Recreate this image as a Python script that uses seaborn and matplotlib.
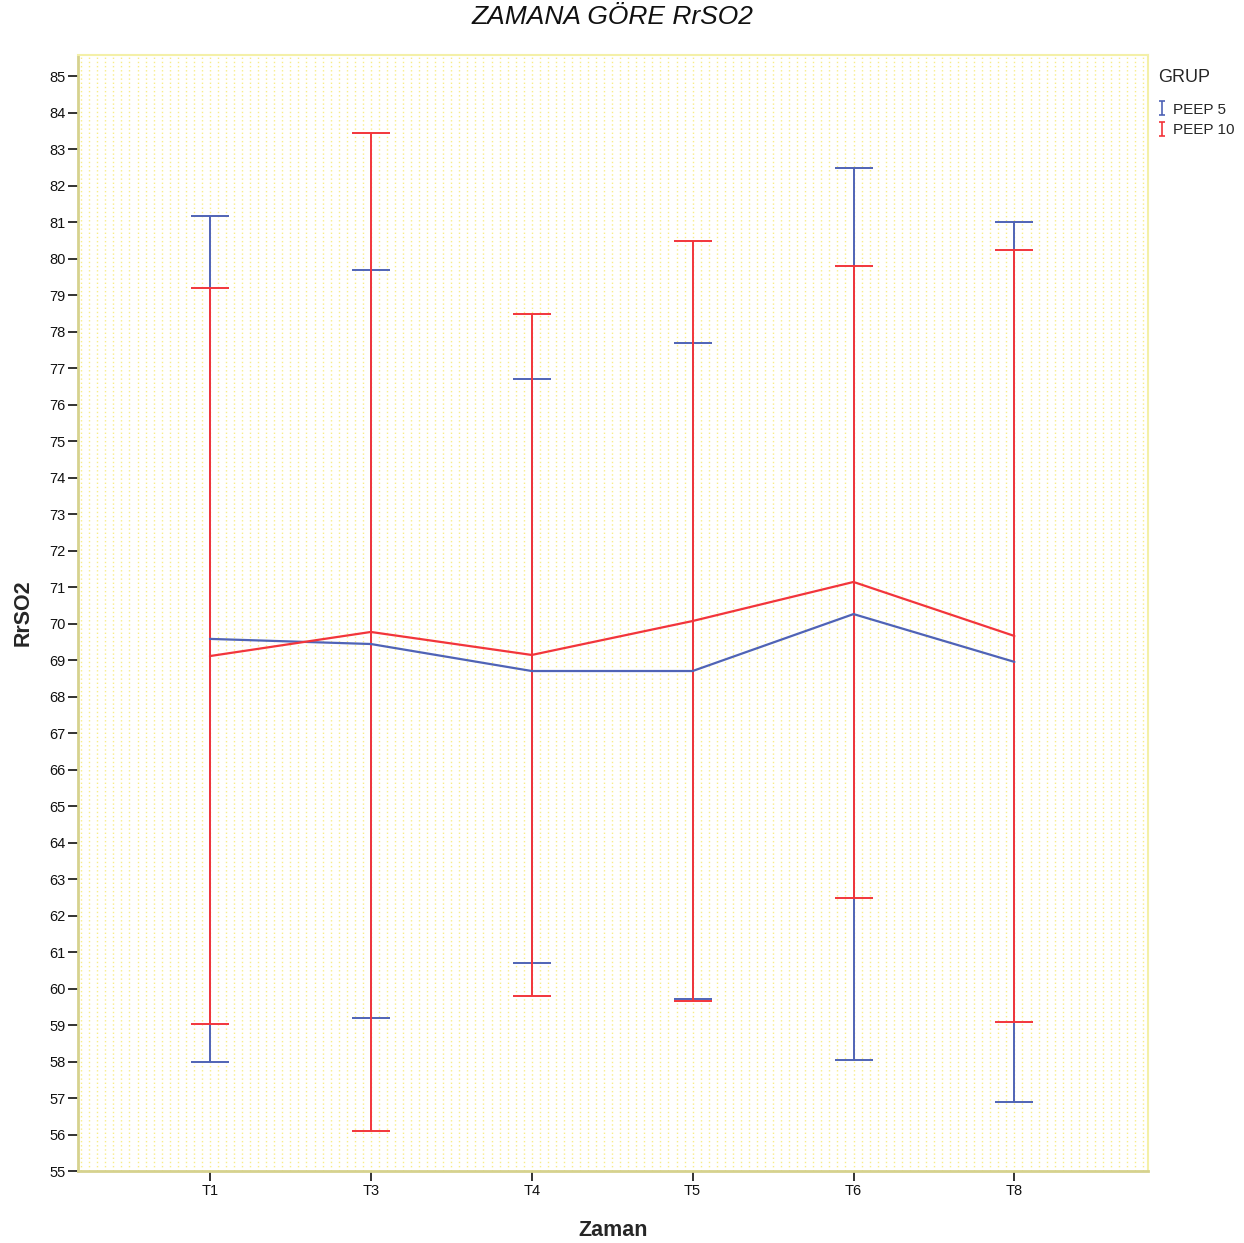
import matplotlib.pyplot as plt
import seaborn as sns
import pandas as pd
from matplotlib.lines import Line2D
from matplotlib.path import Path
from matplotlib.ticker import MultipleLocator

sns.set_theme(style="white")
plt.rcParams['font.family'] = ['Liberation Sans', 'DejaVu Sans']

# --- data (mean +/- sd) ---
times = ["T1", "T3", "T4", "T5", "T6", "T8"]
groups = ["PEEP 5", "PEEP 10"]
peep5_mean = [69.58, 69.44, 68.70, 68.70, 70.26, 68.95]
peep5_sd = [11.60, 10.25, 8.00, 8.99, 12.22, 12.05]
peep10_mean = [69.11, 69.77, 69.14, 70.07, 71.14, 69.66]
peep10_sd = [10.09, 13.68, 9.35, 10.40, 8.67, 10.57]
colors = {"PEEP 5": "#4f63b6", "PEEP 10": "#f2353b"}

df = pd.DataFrame({
    "Zaman": times * 2,
    "GRUP": ["PEEP 5"] * len(times) + ["PEEP 10"] * len(times),
    "RrSO2": peep5_mean + peep10_mean,
    "sd": peep5_sd + peep10_sd,
})

fig = plt.figure(figsize=(12.44, 12.43), dpi=100)
ax = fig.add_axes([0.0627, 0.0579, 0.8601, 0.8979])

sns.lineplot(data=df, x="Zaman", y="RrSO2", hue="GRUP", palette=colors,
             sort=False, linewidth=1.6, legend=False, ax=ax, zorder=3)

for g in groups:
    sub = df[df["GRUP"] == g]
    ax.errorbar(sub["Zaman"], sub["RrSO2"], yerr=sub["sd"], fmt="none",
                ecolor=colors[g], elinewidth=1.4, capsize=13.5, capthick=1.4,
                zorder=2)

ax.set_xlim(-0.82, 5.83)
ax.set_ylim(55, 85.58)
ax.set_yticks(range(55, 86))

# dotted yellow background pattern
ax.set_facecolor("white")
ax.xaxis.set_minor_locator(MultipleLocator(0.05))
ax.grid(which="both", axis="x", color="#f8ec88", linestyle=(0, (1, 2)), linewidth=1.0)
ax.set_axisbelow(True)

for side in ["left", "bottom"]:
    ax.spines[side].set_color("#d6d28e")
    ax.spines[side].set_linewidth(2)
for side in ["top", "right"]:
    ax.spines[side].set_color("#f4f0a8")
    ax.spines[side].set_linewidth(1.5)

ax.tick_params(axis="both", which="major", direction="out", length=7, width=1.3,
               color="#222222", labelcolor="#111111", labelsize=10.5, pad=2,
               left=True, bottom=True)
ax.tick_params(axis="x", which="minor", length=0)

ax.set_xlabel("Zaman", fontsize=15.5, fontweight="bold", labelpad=16)
ax.set_ylabel("RrSO2", fontsize=15.5, fontweight="bold", labelpad=11)

fig.text(0.492, 0.986, "ZAMANA GÖRE RrSO2", ha="center", va="center",
         fontsize=19, style="italic", color="#111111")

# small I-beam (error bar) glyph for the legend
ibeam = Path([(-0.5, -1), (0.5, -1), (0, -1), (0, 1), (-0.5, 1), (0.5, 1)],
             [Path.MOVETO, Path.LINETO, Path.MOVETO, Path.LINETO, Path.MOVETO, Path.LINETO])
handles = [Line2D([], [], linestyle="none", marker=ibeam, markersize=10,
                  markerfacecolor="none", markeredgecolor=colors[g],
                  markeredgewidth=1.2) for g in groups]
leg = fig.legend(handles=handles, labels=groups,
                 title="GRUP", loc="upper left", bbox_to_anchor=(0.926, 0.9495),
                 frameon=False, fontsize=11, title_fontsize=13,
                 handlelength=0.5, handletextpad=0.5, labelspacing=0.45,
                 borderaxespad=0)
leg._legend_box.align = "left"
leg._legend_box.sep = 12

fig.savefig("out.png", dpi=100)
